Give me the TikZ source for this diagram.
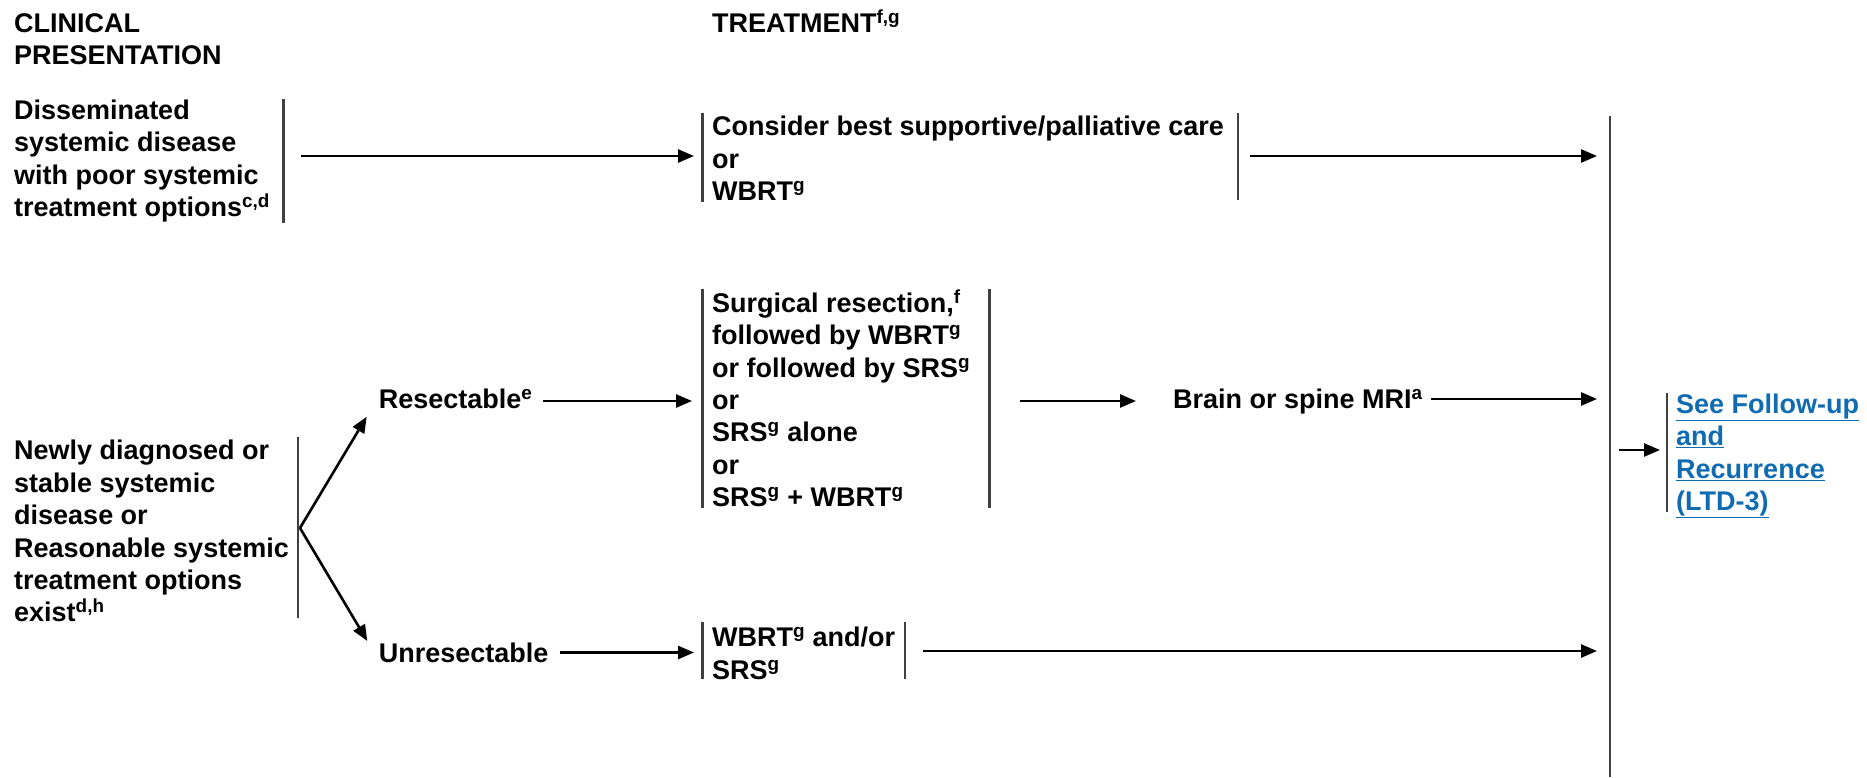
\documentclass[tikz,border=0pt]{standalone}
\usepackage{fontspec}
\setmainfont{Liberation Sans}
\usetikzlibrary{arrows.meta}
\definecolor{linkblue}{RGB}{16,108,178}
\begin{document}
\begin{tikzpicture}[x=1pt,y=-1pt,
  txt/.style={inner sep=0pt, anchor=north west, align=left,
    font=\fontsize{27}{32.4}\selectfont\bfseries},
  bar/.style={draw=black!75, line width=2.3pt},
  arr/.style={line width=2.6pt, -{Triangle[length=16pt,width=13pt]}},
]
\useasboundingbox (0,0) rectangle (1867,777);
\fill[white] (0,0) rectangle (1867,777);

% headings
\node[txt] (hcp) at (14,9.6) {\strut CLINICAL\\PRESENTATION};
\node[txt] (htr) at (712,9.6) {\strut TREATMENT\textsuperscript{f,g}};

% row 1
\node[txt] (dis) at (14,96.5) {\strut Disseminated\\systemic disease\\with poor systemic\\treatment options\textsuperscript{c,d}};
\node[txt] (bsc) at (712,113) {\strut Consider best supportive/palliative care\\or\\WBRT\textsuperscript{g}};

% row 2
\node[txt] (new) at (14,437) {\strut Newly diagnosed or\\stable systemic\\disease or\\Reasonable systemic\\treatment options\\exist\textsuperscript{d,h}};
\node[txt] (res) at (378.6,386) {\strut Resectable\textsuperscript{e}};
\node[txt] (surg) at (712,289.4) {\strut Surgical resection,\textsuperscript{f}\\followed by WBRT\textsuperscript{g}\\or followed by SRS\textsuperscript{g}\\or\\SRS\textsuperscript{g} alone\\or\\SRS\textsuperscript{g} + WBRT\textsuperscript{g}};
\node[txt] (mri) at (1173,386) {\strut Brain or spine MRI\textsuperscript{a}};
\node[txt] (unr) at (378.6,639.5) {\strut Unresectable};
\node[txt] (wbrt) at (712,624) {\strut WBRT\textsuperscript{g} and/or\\SRS\textsuperscript{g}};

% follow-up link
\node[txt, text=linkblue] (fu) at (1676,390.6) {\strut\underline{See Follow-up}\\\underline{and}\\\underline{Recurrence}\\\underline{(LTD-3)}};

% bars
\draw[bar] (283.4,98.8) -- (283.4,222.7);
\draw[bar] (702.5,113) -- (702.5,202);
\draw[bar] (1238,113) -- (1238,200);
\draw[bar] (1610,115.5) -- (1610,777);
\draw[bar] (702.5,289) -- (702.5,508);
\draw[bar] (989.5,289) -- (989.5,508);
\draw[bar] (1667,393) -- (1667,512);
\draw[bar] (297.7,437) -- (297.7,618);
\draw[bar] (702.5,621.5) -- (702.5,678.7);
\draw[bar] (905,621.5) -- (905,678.7);

% arrow end points
\coordinate (a1s) at (301,156);   \coordinate (a1e) at (694,156);
\coordinate (a2s) at (1250,156);  \coordinate (a2e) at (1597,156);
\coordinate (br)  at (300,528);
\coordinate (rtip) at (366.7,416.7);
\coordinate (utip) at (367.3,641);
\coordinate (a3s) at (543,401);   \coordinate (a3e) at (692,401);
\coordinate (a4s) at (1020,401);  \coordinate (a4e) at (1136,401);
\coordinate (a5s) at (1431,399);  \coordinate (a5e) at (1597,399);
\coordinate (a6s) at (1619,450);  \coordinate (a6e) at (1660,450);
\coordinate (a7s) at (559.6,652.5); \coordinate (a7e) at (694,652.5);
\coordinate (a8s) at (923,651);   \coordinate (a8e) at (1597,651);

\draw[arr] (a1s) -- (a1e);
\draw[arr] (a2s) -- (a2e);
\draw[arr] (br) -- (rtip);
\draw[arr] (br) -- (utip);
\draw[arr] (a3s) -- (a3e);
\draw[arr] (a4s) -- (a4e);
\draw[arr] (a5s) -- (a5e);
\draw[arr] (a6s) -- (a6e);
\draw[arr] (a7s) -- (a7e);
\draw[arr] (a8s) -- (a8e);
\end{tikzpicture}
\end{document}
